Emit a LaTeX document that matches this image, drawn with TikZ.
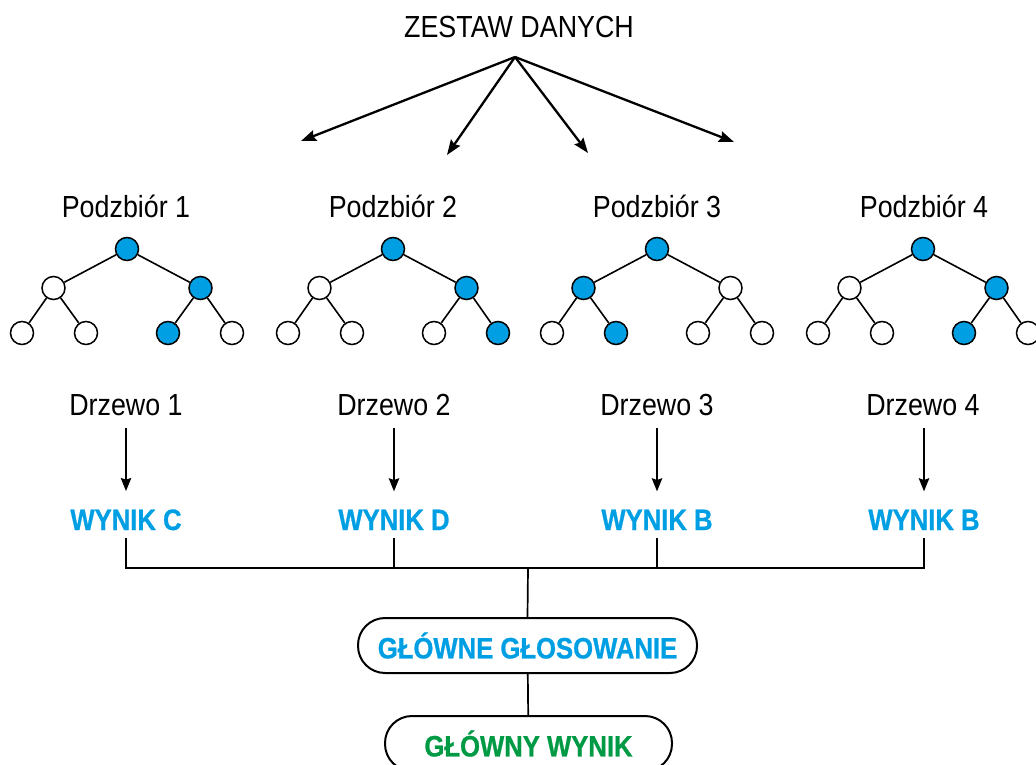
\documentclass[tikz,border=0pt]{standalone}
\usepackage{fontspec}
\setmainfont{Liberation Sans}[FakeStretch=0.88]
\newfontfamily\boldcond{Liberation Sans}[FakeStretch=0.87, BoldFeatures={FakeBold=0.8}]
\usetikzlibrary{arrows.meta}
\definecolor{tblue}{HTML}{009FE3}
\definecolor{tgreen}{HTML}{009A44}
\tikzset{
  lbl/.style={font=\fontsize{30.5}{36}\selectfont, inner sep=0pt, anchor=base},
  res/.style={font=\boldcond\fontsize{29.5}{35}\selectfont\bfseries, text=tblue, inner sep=0pt, anchor=base},
  tn/.style={circle, draw, line width=1.5pt, minimum size=23pt, inner sep=0pt, fill=white},
  tb/.style={tn, fill=tblue},
  edge/.style={line width=1.6pt},
  arr/.style={line width=2.3pt, -{Stealth[length=15pt,width=11pt,inset=2pt]}},
  downarr/.style={line width=2.8pt, -{Stealth[length=13pt,width=10pt,inset=1.5pt]}},
  bus/.style={line width=1.7pt},
  pill/.style={draw, line width=2pt, rounded corners=27pt, minimum height=55pt,
    inner sep=0pt, font=\boldcond\fontsize{29.5}{35}\selectfont\bfseries},
}
% binary tree: #1 id, #2 root x, #3..#8 styles of L, R, LL, LR, RL, RR
\newcommand{\bintree}[8]{%
  \node[tb] (#1r) at (#2,249) {};
  \node[#3] (#1l) at ({#2-73.5},288) {};
  \node[#4] (#1rr) at ({#2+73.5},288) {};
  \node[#5] (#1a) at ({#2-105},333) {};
  \node[#6] (#1b) at ({#2-41},333) {};
  \node[#7] (#1c) at ({#2+41},333) {};
  \node[#8] (#1d) at ({#2+105},333) {};
  \draw[edge] (#1r) -- (#1l);
  \draw[edge] (#1r) -- (#1rr);
  \draw[edge] (#1l) -- (#1a);
  \draw[edge] (#1l) -- (#1b);
  \draw[edge] (#1rr) -- (#1c);
  \draw[edge] (#1rr) -- (#1d);
}
\begin{document}
\begin{tikzpicture}[x=1pt,y=-1pt]
\useasboundingbox (0,0) rectangle (1036,765);

% data set and the fan of arrows to the subsets
\node[lbl] (data) at (519,38) {ZESTAW DANYCH};
\coordinate (src) at (515,57);
\coordinate (s1) at (301,141);
\coordinate (s2) at (447,155);
\coordinate (s3) at (588,153);
\coordinate (s4) at (734,142);
\foreach \t in {s1,s2,s3,s4} \draw[arr] (src) -- (\t);

% subsets
\node[lbl] (p1) at (126,217) {Podzbiór 1};
\node[lbl] (p2) at (393,217) {Podzbiór 2};
\node[lbl] (p3) at (657,217) {Podzbiór 3};
\node[lbl] (p4) at (924,217) {Podzbiór 4};

% trees
\bintree{t1}{127}{tn}{tb}{tn}{tn}{tb}{tn}
\bintree{t2}{393}{tn}{tb}{tn}{tn}{tn}{tb}
\bintree{t3}{657}{tb}{tn}{tn}{tb}{tn}{tn}
\bintree{t4}{923}{tn}{tb}{tn}{tn}{tb}{tn}

% tree names and their results
\node[lbl] (d1) at (126,415) {Drzewo 1};
\node[lbl] (d2) at (394,415) {Drzewo 2};
\node[lbl] (d3) at (657,415) {Drzewo 3};
\node[lbl] (d4) at (923,415) {Drzewo 4};

\node[res] (w1) at (126,530) {WYNIK C};
\node[res] (w2) at (394,530) {WYNIK D};
\node[res] (w3) at (657,530) {WYNIK B};
\node[res] (w4) at (924,530) {WYNIK B};

\foreach \i in {1,2,3,4}
  \draw[downarr, shorten <=13pt, shorten >=18pt] (w\i.north |- d\i.base) -- (w\i.north);

% voting
\node[pill, text=tblue, minimum width=339pt] (vote) at (527.5,645.5) {GŁÓWNE GŁOSOWANIE};
\node[pill, text=tgreen, minimum width=287pt] (final) at (528.5,743.5) {GŁÓWNY WYNIK};

\coordinate (hub) at (528,568);
\foreach \i in {1,2,3,4}
  \draw[bus, shorten <=8pt] (w\i.base) |- (hub);
\draw[bus] (hub) -- (vote.north);
\draw[bus] (vote) -- (final);
\end{tikzpicture}
\end{document}
